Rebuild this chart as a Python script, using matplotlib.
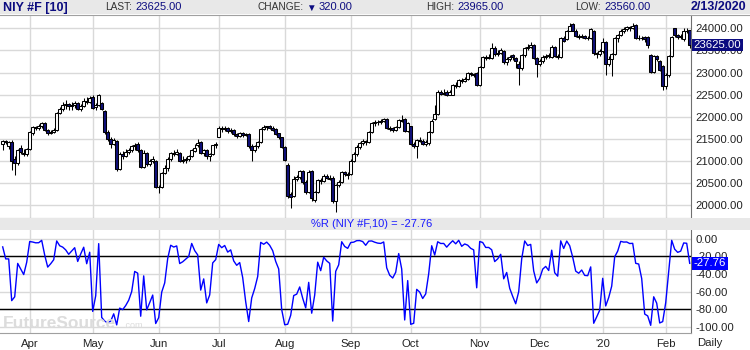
import numpy as np
import pandas as pd
import matplotlib
matplotlib.use("Agg")
import matplotlib.pyplot as plt

plt.rcParams['font.family'] = ['Liberation Sans', 'DejaVu Sans']

# NIY #F daily bars, 19 Mar 2019 .. 13 Feb 2020 (CME holidays skipped)
holidays = ["2019-04-19", "2019-05-27", "2019-07-04", "2019-09-02",
            "2019-11-28", "2019-12-25", "2020-01-01", "2020-01-20"]
dates = pd.bdate_range("2019-03-19", "2020-02-13", freq="C", holidays=holidays)

opens = [
    21380, 21450, 21330, 21420, 21050, 20960, 21300, 21180, 21150,
    21260, 21620, 21760, 21740, 21780, 21860, 21700, 21630, 21660, 21700, 22080,
    22170, 22260, 22280, 22240, 22270, 22300, 22180, 22250, 22350, 22330,
    22450, 22220, 22260, 22300, 22120, 21650, 21500, 21380, 21450, 20820, 21150,
    21120, 21200, 21250, 21330, 21380, 21250, 20870, 21180, 20920, 21000, 21000,
    20420, 20400, 20730, 20850, 21050, 21180, 21160, 21180, 21000, 21020,
    21050, 21100, 21220, 21350, 21420, 21180, 21250, 21100, 21150, 21350,
    21550, 21750, 21720, 21750, 21680, 21700, 21600, 21560, 21620, 21580, 21600,
    21330, 21250, 21330, 21420, 21720, 21760, 21790, 21750, 21720, 21620, 21530,
    21320, 20900, 20250, 20200, 20600, 20630, 20770, 20520, 20300, 20770, 20120,
    20300, 20570, 20540, 20650, 20620, 20620, 20100, 20450, 20520, 20750, 20700,
    20700, 21000, 21150, 21320, 21400, 21450, 21420, 21650, 21850, 21880,
    21870, 21900, 21950, 21750, 21740, 21700, 21760, 21920, 21950, 21680,
    21780, 21380, 21330, 21480, 21450, 21380, 21400, 21650, 21950, 22050, 22550,
    22520, 22560, 22500, 22500, 22720, 22700, 22830, 22800, 22850, 22980, 22960,
    23000,
    22720, 23130, 23350, 23330, 23330, 23550, 23420, 23450, 23480, 23230,
    23300, 23400, 23330, 23200, 23100, 23400, 23550, 23580, 23620, 23330,
    23200, 23250, 23350, 23380, 23350, 23580, 23380, 23350, 23780, 23750, 23950,
    24100, 23950, 23820, 23800, 23830, 23780, 23780, 23950, 23430, 23420,
    23480, 23700, 23200, 23300, 23420, 23780, 23850, 23950, 23980, 24020, 24000,
    24080, 23780, 23770, 23800, 23800, 23400, 23020, 23380, 23250, 23150,
    22700, 22950, 23380, 24000, 23850, 23800, 23750, 23950, 23960,
]
highs = [
    21470, 21470, 21450, 21470, 21100, 21280, 21350, 21260, 21300,
    21680, 21800, 21800, 21830, 21880, 21880, 21720, 21700, 21740, 22100, 22220,
    22330, 22380, 22320, 22330, 22360, 22330, 22290, 22420, 22440, 22470,
    22480, 22300, 22510, 22330, 22150, 21700, 21550, 21520, 21470, 21200, 21220,
    21280, 21300, 21360, 21400, 21420, 21270, 21250, 21200, 21050, 21100, 21020,
    20450, 20760, 20900, 21080, 21200, 21250, 21280, 21200, 21100, 21080,
    21130, 21260, 21380, 21500, 21440, 21280, 21270, 21180, 21370, 21420,
    21800, 21790, 21780, 21770, 21740, 21720, 21640, 21660, 21660, 21640, 21620,
    21380, 21350, 21450, 21750, 21810, 21800, 21810, 21780, 21740, 21640, 21550,
    21340, 20950, 20300, 20650, 20680, 20800, 20800, 20560, 20790, 20800, 20330,
    20600, 20620, 20700, 20700, 20680, 20650, 20480, 20560, 20780, 20780, 20750,
    21050, 21200, 21350, 21430, 21500, 21480, 21680, 21880, 21930, 21920,
    21950, 21980, 21970, 21790, 21760, 21800, 21950, 22030, 21970, 21880,
    21800, 21420, 21500, 21540, 21500, 21470, 21680, 21950, 22270, 22600, 22600,
    22620, 22600, 22600, 22750, 22780, 22850, 22880, 22900, 23020, 23010, 23000,
    23020,
    23150, 23380, 23400, 23420, 23670, 23600, 23520, 23560, 23500, 23350,
    23400, 23420, 23360, 23250, 23420, 23570, 23650, 23680, 23650, 23360,
    23300, 23400, 23420, 23450, 23620, 23600, 23420, 23800, 23820, 23970, 24120,
    24120, 23980, 23860, 23870, 23850, 23820, 24000, 23970, 23470, 23530,
    23780, 23720, 23380, 23450, 23800, 23880, 23980, 24020, 24060, 24050, 24110,
    24100, 23850, 23830, 23820, 23820, 23420, 23400, 23400, 23280, 23170,
    23000, 23400, 23820, 24015, 23880, 23860, 24000, 24000, 23965,
]
lows = [
    21250, 21380, 21280, 20800, 20680, 20900, 21150, 21100, 21120,
    21240, 21580, 21700, 21700, 21740, 21680, 21580, 21600, 21620, 21680, 22050,
    22140, 22180, 22150, 22160, 22200, 22150, 22140, 22230, 22280, 22300,
    22180, 22150, 22240, 22150, 21600, 21450, 21300, 21350, 20780, 20800, 21050,
    21080, 21150, 21200, 21250, 21200, 20840, 20850, 20880, 20880, 20950, 20380,
    20280, 20380, 20700, 20780, 21000, 21120, 21130, 20980, 20960, 20950,
    20990, 21080, 21200, 21320, 21150, 21120, 21050, 21000, 21130, 21300,
    21530, 21660, 21680, 21640, 21640, 21560, 21520, 21540, 21550, 21560, 21300,
    20990, 21200, 21300, 21400, 21700, 21700, 21720, 21680, 21580, 21500, 21300,
    21000, 20150, 19930, 20180, 20550, 20600, 20480, 20250, 20280, 20100, 20080,
    20280, 20480, 20520, 20580, 20560, 20050, 19850, 20400, 20500, 20650, 20600,
    20680, 20980, 21120, 21280, 21350, 21350, 21400, 21620, 21800, 21820,
    21840, 21870, 21720, 21680, 21650, 21680, 21740, 21870, 21650, 21660,
    21360, 21300, 21070, 21420, 21350, 21340, 21350, 21620, 21930, 22030, 22480,
    22480, 22460, 22480, 22480, 22650, 22680, 22760, 22780, 22830, 22920, 22900,
    22700,
    22700, 23100, 23280, 23300, 23300, 23380, 23380, 23420, 23200, 23180,
    23250, 23280, 23100, 22720, 23050, 23360, 23520, 23550, 23300, 22900,
    23150, 23220, 23300, 23330, 23320, 23350, 23300, 23330, 23680, 23730, 23930,
    23930, 23800, 23760, 23780, 23750, 23740, 23760, 23400, 23330, 23380,
    23450, 22950, 23150, 22920, 23400, 23700, 23820, 23900, 23950, 23950, 23980,
    23750, 23740, 23740, 23700, 23550, 23000, 23000, 23250, 23030, 22610,
    22620, 22900, 23350, 23800, 23750, 23760, 23720, 23900, 23560,
]
closes = [
    21450, 21420, 21420, 21000, 20950, 21250, 21200, 21150, 21260,
    21650, 21760, 21750, 21780, 21860, 21700, 21630, 21660, 21700, 22080, 22170,
    22260, 22280, 22240, 22270, 22300, 22180, 22250, 22350, 22330, 22420,
    22200, 22260, 22490, 22180, 21660, 21500, 21380, 21480, 20820, 21150, 21120,
    21200, 21250, 21330, 21360, 21250, 20870, 21180, 20920, 21000, 21050, 20420,
    20400, 20730, 20850, 21050, 21180, 21160, 21200, 21000, 21020, 21050,
    21100, 21250, 21300, 21400, 21180, 21250, 21100, 21150, 21350, 21380,
    21750, 21720, 21740, 21680, 21700, 21600, 21560, 21620, 21580, 21600, 21330,
    21250, 21330, 21420, 21720, 21760, 21780, 21750, 21700, 21600, 21530, 21320,
    21020, 20200, 20180, 20600, 20630, 20770, 20520, 20300, 20750, 20150, 20300,
    20570, 20540, 20650, 20620, 20600, 20100, 20450, 20520, 20750, 20700, 20680,
    21000, 21150, 21320, 21400, 21450, 21420, 21650, 21850, 21880, 21870,
    21900, 21950, 21750, 21720, 21700, 21760, 21920, 21900, 21680, 21850,
    21380, 21330, 21480, 21450, 21380, 21430, 21650, 21900, 22050, 22550, 22520,
    22540, 22500, 22550, 22720, 22700, 22830, 22800, 22850, 22980, 22960, 22950,
    22720,
    23130, 23350, 23330, 23350, 23550, 23420, 23450, 23500, 23230, 23300,
    23350, 23350, 23250, 23100, 23400, 23550, 23580, 23620, 23330, 23200,
    23250, 23350, 23380, 23400, 23580, 23380, 23350, 23780, 23720, 23950, 24050,
    23950, 23820, 23800, 23830, 23780, 23790, 23980, 23430, 23420, 23480,
    23700, 23200, 23300, 23420, 23780, 23850, 23950, 23980, 24020, 24000, 24050,
    23780, 23770, 23790, 23760, 23620, 23020, 23380, 23300, 23050, 22700,
    22950, 23380, 23800, 23850, 23800, 23820, 23950, 23945, 23625,
]

month_names = ["Jan", "Feb", "Mar", "Apr", "May", "Jun", "Jul", "Aug", "Sep", "Oct", "Nov", "Dec"]

o = np.array(opens, float)
h = np.array(highs, float)
l = np.array(lows, float)
c = np.array(closes, float)
n = len(c)
assert n == len(dates) == len(o) == len(h) == len(l)
x = np.arange(n)

# Williams %R, 10 bars
hh = pd.Series(h).rolling(10, min_periods=1).max().values
ll = pd.Series(l).rolling(10, min_periods=1).min().values
pct_r = -100 * (hh - c) / (hh - ll)

# month gridlines / labels
months = dates.month.values
mpos = [i for i in range(1, n) if months[i] != months[i - 1]]
mlab = ["'" + dates[i].strftime("%y") if months[i] == 1 else month_names[months[i] - 1] for i in mpos]

W, H = 750, 350
fig = plt.figure(figsize=(7.5, 3.5), dpi=100)
fig.patch.set_facecolor("white")

def fx(px):
    return px / W

def fy(py):
    return 1 - py / H

navy = "#0c0c80"
grid = "#d9d9d9"
down = "#10107a"
xl = (-0.9, (691 - 2.7) / 3)

# header strip
fig.patches.append(plt.Rectangle((0, fy(14)), 1, 14 / H, transform=fig.transFigure,
                                 fc="#e8e8e8", ec="none", zorder=0))
fig.lines.append(plt.Line2D([0, 1], [fy(14.5), fy(14.5)], transform=fig.transFigure,
                            color="#a0a0a0", lw=0.8))
last = c[-1]
chg = c[-2] - c[-1]
fig.text(fx(3), fy(7.5), "NIY #F [10]", color=navy, fontsize=9, fontweight="bold", va="center")
fig.text(fx(105), fy(7.5), "LAST:", color="#333333", fontsize=7.3, va="center")
fig.text(fx(135), fy(7.5), f"{last:.2f}", color=navy, fontsize=8, va="center")
fig.text(fx(257), fy(7.5), "CHANGE:", color="#333333", fontsize=7.3, va="center")
fig.text(fx(306), fy(7.5), "\u25bc", color=navy, fontsize=7, va="center")
fig.text(fx(319), fy(7.5), f"{chg:.2f}", color=navy, fontsize=8, va="center")
fig.text(fx(426), fy(7.5), "HIGH:", color="#333333", fontsize=7.3, va="center")
fig.text(fx(457), fy(7.5), f"{h[-1]:.2f}", color=navy, fontsize=8, va="center")
fig.text(fx(575), fy(7.5), "LOW:", color="#333333", fontsize=7.3, va="center")
fig.text(fx(604), fy(7.5), f"{l[-1]:.2f}", color=navy, fontsize=8, va="center")
fig.text(fx(746), fy(7.5), dates[-1].strftime("%-m/%-d/%Y"), color=navy, fontsize=9,
         fontweight="bold", va="center", ha="right")

# price panel
ax = fig.add_axes([0, fy(218), fx(691), (218 - 15) / H])
ax.set_xlim(*xl)
ax.set_ylim(19708, 24301)
ax.vlines(x, l, h, color="black", lw=0.75, zorder=2)
ax.bar(x, np.abs(c - o), bottom=np.minimum(o, c), width=0.85,
       color=np.where(c >= o, "white", down), edgecolor="black", linewidth=0.75, zorder=3)
ax.set_yticks(np.arange(20000, 24001, 500))
ax.yaxis.tick_right()
ax.set_yticklabels([f"{v:.2f}" for v in np.arange(20000, 24001, 500)])
ax.set_xticks(mpos)
ax.set_xticklabels([])
ax.grid(True, color=grid, lw=1)
ax.set_axisbelow(True)
ax.tick_params(length=0, pad=3, labelsize=8.2, labelcolor="#222222")
for s in ["top", "left"]:
    ax.spines[s].set_visible(False)
ax.spines["right"].set_color("#707070")
ax.spines["bottom"].set_color("#a0a0a0")
ax.text(1.004, last, f"{last:.2f}", transform=ax.get_yaxis_transform(), color="white",
        fontsize=8.2, va="center", ha="left", clip_on=False, zorder=5,
        bbox=dict(boxstyle="square,pad=0.12", fc=navy, ec="none"))

# %R title strip
fig.patches.append(plt.Rectangle((0, fy(230)), 1, 12 / H, transform=fig.transFigure,
                                 fc="#e8e8e8", ec="none", zorder=0))
fig.text(fx(372), fy(224), f"%R (NIY #F,10) = {pct_r[-1]:.2f}", color="#1a1aff",
         fontsize=8, va="center", ha="center")

# watermark
fig.text(fx(3), fy(328), "FutureSource", fontsize=12.5, fontweight="bold", color="#dcdcdc",
         va="baseline", zorder=0)
fig.text(fx(123), fy(328), ".com", fontsize=6.5, color="#dcdcdc", va="baseline", zorder=0)

# %R panel
ax2 = fig.add_axes([0, fy(333), fx(691), (333 - 230) / H])
ax2.patch.set_alpha(0)
ax2.set_xlim(*xl)
ax2.set_ylim(-106.9, 10.1)
ax2.plot(x, pct_r, color="#0000ff", lw=1.0, zorder=3)
ax2.axhline(-20, color="black", lw=1, zorder=2)
ax2.axhline(-80, color="black", lw=1, zorder=2)
ax2.set_yticks([0, -20, -40, -60, -80, -100])
ax2.set_yticklabels([f"{v:.2f}" for v in [0, -20, -40, -60, -80, -100]])
ax2.yaxis.tick_right()
ax2.set_xticks(mpos)
ax2.set_xticklabels(mlab)
ax2.grid(True, color=grid, lw=1)
ax2.set_axisbelow(True)
ax2.tick_params(length=0, labelsize=8.2, labelcolor="#222222")
ax2.tick_params(axis="y", pad=3)
ax2.tick_params(axis="x", pad=4)
for s in ["top", "left"]:
    ax2.spines[s].set_visible(False)
ax2.spines["right"].set_color("#707070")
ax2.spines["bottom"].set_color("#a0a0a0")
ax2.text(1.004, pct_r[-1], f"{pct_r[-1]:.2f}", transform=ax2.get_yaxis_transform(),
         color="white", fontsize=8.2, va="center", ha="left", clip_on=False, zorder=5,
         bbox=dict(boxstyle="square,pad=0.12", fc="#0000ff", ec="none"))
fig.text(fx(697), fy(343), "Daily", color="#222222", fontsize=8.2, va="center")

fig.savefig("out.png", dpi=100, facecolor="white")
